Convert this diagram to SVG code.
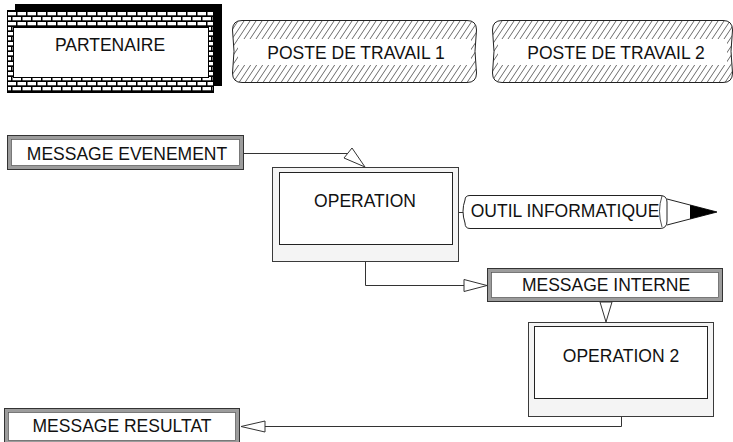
<svg xmlns="http://www.w3.org/2000/svg" width="733" height="442" viewBox="0 0 733 442">
<style>
  text { font-family: "Liberation Sans", Arial, sans-serif; font-size: 17.5px; fill: #111; text-anchor: middle; }
  .msg-out { fill: #9c9c9c; stroke: #333; stroke-width: 1; }
  .msg-in { fill: #fff; stroke: #555; stroke-width: 0.7; }
  .op-out { fill: #f4f4f4; stroke: #3a3a3a; stroke-width: 1; }
  .op-in { fill: #fff; stroke: #222; stroke-width: 1; }
  .conn { fill: none; stroke: #333; stroke-width: 1; }
  .arrow { fill: #fff; stroke: #333; stroke-width: 1; }
  .poste { fill: url(#hatch); stroke: #222; stroke-width: 1; }
</style>
<defs>
  <pattern id="brick" patternUnits="userSpaceOnUse" x="7" y="11" width="10" height="10">
    <rect width="10" height="10" fill="#000"/>
    <rect x="0.5" y="1" width="8.5" height="3.3" fill="#fff"/>
    <rect x="5.5" y="6" width="8.5" height="3.3" fill="#fff"/>
    <rect x="-4.5" y="6" width="8.5" height="3.3" fill="#fff"/>
  </pattern>
  <pattern id="hatch" patternUnits="userSpaceOnUse" width="6" height="9">
    <rect width="6" height="9" fill="#fff"/>
    <path d="M-1,1.5 L1,-1.5 M0,9 L6,0 M5,10.5 L7,7.5" stroke="#444" stroke-width="0.8"/>
  </pattern>
</defs>
<rect width="733" height="442" fill="#fff"/>

<g id="partenaire">
  <rect x="15" y="4" width="207" height="82" fill="#000"/>
  <rect x="7.5" y="10.5" width="206" height="82" fill="url(#brick)" stroke="#000" stroke-width="1"/>
  <rect x="13.5" y="27.5" width="195" height="50" fill="#fff" stroke="#000" stroke-width="1"/>
  <text x="110" y="51">PARTENAIRE</text>
</g>

<g id="poste1">
  <path class="poste" d="M242,20.5 L467,20.5 Q476.5,20.5 476.5,30 Q473.5,51 476.5,73 Q476.5,82.5 467,82.5 L242,82.5 Q232.5,82.5 232.5,73 Q235.5,51 232.5,30 Q232.5,20.5 242,20.5 Z"/>
  <rect x="238" y="39" width="233" height="26" fill="#fff"/>
  <text x="356" y="59">POSTE DE TRAVAIL 1</text>
</g>

<g id="poste2">
  <path class="poste" d="M502,20.5 L723,20.5 Q732.5,20.5 732.5,30 Q729.5,51 732.5,73 Q732.5,82.5 723,82.5 L502,82.5 Q492.5,82.5 492.5,73 Q495.5,51 492.5,30 Q492.5,20.5 502,20.5 Z"/>
  <rect x="498" y="39" width="229" height="26" fill="#fff"/>
  <text x="616" y="59">POSTE DE TRAVAIL 2</text>
</g>

<g id="message-evenement">
  <rect class="msg-out" x="7.5" y="135.5" width="236" height="34"/>
  <rect class="msg-in" x="11.5" y="139.5" width="228" height="26"/>
  <text x="127" y="160">MESSAGE EVENEMENT</text>
</g>

<g id="operation">
  <rect class="op-out" x="272.5" y="167.5" width="186" height="94"/>
  <rect class="op-in" x="279.5" y="172.5" width="173" height="72"/>
  <text x="365" y="207">OPERATION</text>
</g>

<g id="outil-informatique">
  <path d="M667,199 L717,212 L667,225" fill="#fff" stroke="#222" stroke-width="1"/>
  <path d="M690,205 L717,212 L690,219 Z" fill="#000"/>
  <path d="M470,195.5 L660,195.5 Q667,195.5 667,202 L667,221 Q667,228.5 660,228.5 L470,228.5 Q465,228.5 465,223 Q461,211 465,200 Q465,195.5 470,195.5 Z" fill="#fff" stroke="#222" stroke-width="1"/>
  <path d="M662,196 Q657,211 662,227" fill="none" stroke="#222" stroke-width="0.8"/>
  <text x="565" y="217">OUTIL INFORMATIQUE</text>
</g>

<g id="message-interne">
  <rect class="msg-out" x="487.5" y="268.5" width="235" height="33"/>
  <rect class="msg-in" x="491.5" y="272.5" width="227" height="25"/>
  <text x="606" y="291">MESSAGE INTERNE</text>
</g>

<g id="operation2">
  <rect class="op-out" x="528.5" y="322.5" width="185" height="94"/>
  <rect class="op-in" x="534.5" y="326.5" width="173" height="72"/>
  <text x="621" y="362">OPERATION 2</text>
</g>

<g id="message-resultat">
  <rect class="msg-out" x="4.5" y="408.5" width="235" height="36"/>
  <rect class="msg-in" x="8.5" y="412.5" width="227" height="28"/>
  <text x="122" y="432">MESSAGE RESULTAT</text>
</g>

<g id="connectors">
  <polyline class="conn" points="244,153.5 348,153.5"/>
  <polygon class="arrow" points="365,167 344,158 352,148"/>
  <polyline class="conn" points="365.5,262 365.5,285.5 464,285.5"/>
  <polygon class="arrow" points="487,285.5 464,279.5 464,291.5"/>
  <polygon class="arrow" points="606,322 600,302 612,302"/>
  <polyline class="conn" points="621.5,417 621.5,426.5 265,426.5"/>
  <polygon class="arrow" points="241,426.5 265,421 265,432"/>
  <line class="conn" x1="459" y1="212.5" x2="463" y2="212.5"/>
</g>
</svg>
